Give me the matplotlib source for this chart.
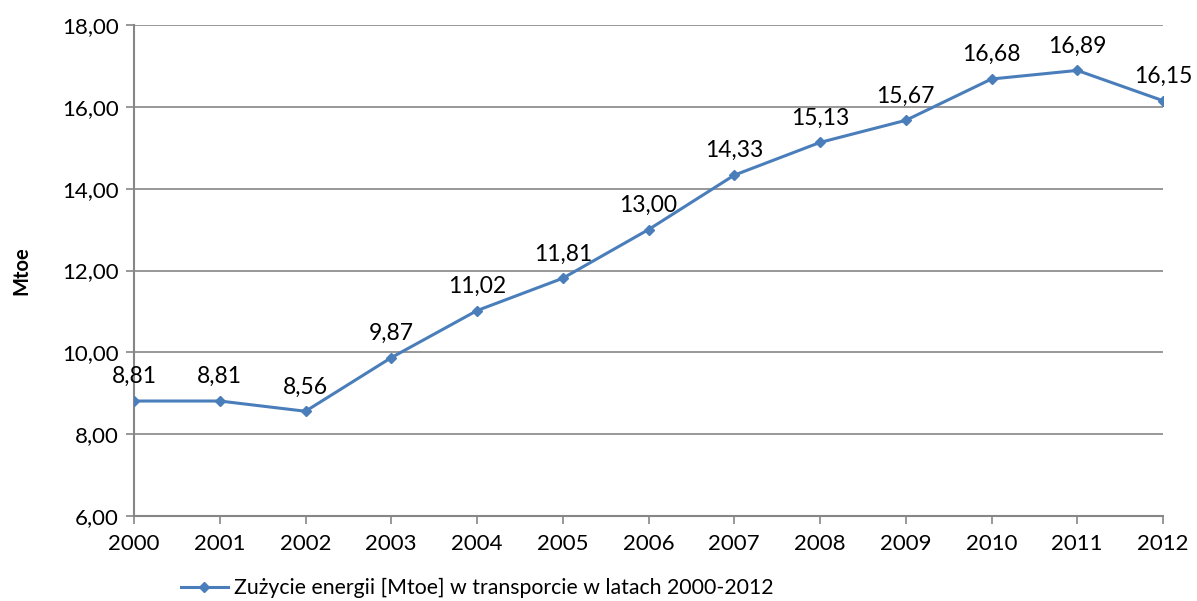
import matplotlib
matplotlib.use("Agg")
import matplotlib.pyplot as plt
from matplotlib.lines import Line2D

years = [2000, 2001, 2002, 2003, 2004, 2005, 2006, 2007, 2008, 2009, 2010, 2011, 2012]
values = [8.81, 8.81, 8.56, 9.87, 11.02, 11.81, 13.00, 14.33, 15.13, 15.67, 16.68, 16.89, 16.15]
yticks = [6, 8, 10, 12, 14, 16, 18]
series_name = "Zużycie energii [Mtoe] w transporcie w latach 2000-2012"

plt.rcParams['font.family'] = ['Lato', 'DejaVu Sans']
color = '#4a7ebb'
grid = '#868686'

fig = plt.figure(figsize=(11.97, 6.01), dpi=100)
ax = fig.add_axes([134/1197, 1-516/601, (1163-134)/1197, (516-25)/601])

ax.plot(years, values, color=color, lw=2.2, marker='D', ms=5, mfc=color, mec=color, zorder=3)
for x, v in zip(years, values):
    ax.annotate(f"{v:.2f}".replace('.', ','), (x, v), xytext=(0, 10), textcoords='offset points',
                ha='center', va='bottom', fontsize=16.5, color='black')

ax.set_xlim(years[0], years[-1])
ax.set_ylim(6, 18)
ax.set_yticks(yticks)
ax.set_yticklabels([f"{t:.2f}".replace('.', ',') for t in yticks])
ax.set_xticks(years)
ax.set_xticklabels([str(y) for y in years])
ax.yaxis.grid(True, color=grid, lw=1.2)
ax.set_axisbelow(True)
for s in ['top', 'right']:
    ax.spines[s].set_visible(False)
for s in ['left', 'bottom']:
    ax.spines[s].set_color(grid)
    ax.spines[s].set_linewidth(1.5)
ax.tick_params(axis='both', direction='out', length=6, width=1.2, color=grid, labelsize=16, labelcolor='black')
ax.tick_params(axis='x', pad=7)
ax.tick_params(axis='y', pad=5)
ax.set_ylabel('Mtoe', fontsize=14.5, fontweight='bold', labelpad=22)

handle = Line2D([], [], color=color, lw=2.2, marker='D', ms=5, mfc=color, mec=color)
fig.legend([handle], [series_name], loc='center left', bbox_to_anchor=(181/1197, 1-588/601),
           frameon=False, fontsize=15.3, handlelength=2.2, handletextpad=0.3, borderaxespad=0,
           borderpad=0)

fig.savefig('out.png', dpi=100)
